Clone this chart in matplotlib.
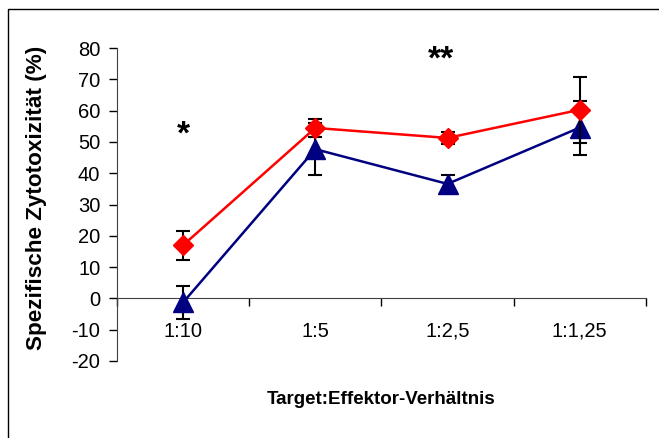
import matplotlib.pyplot as plt
from matplotlib import font_manager
from matplotlib.patches import Rectangle

plt.rcParams['font.family'] = ['Liberation Sans', 'DejaVu Sans']
plt.rcParams['axes.unicode_minus'] = False

# data
ratios = ['1:10', '1:5', '1:2,5', '1:1,25']
red_vals = [17.0, 54.5, 51.3, 60.3]
red_err = [4.7, 3.0, 2.0, 10.5]
blue_vals = [-1.3, 47.7, 36.6, 54.6]
blue_err = [5.2, 8.3, 3.0, 8.6]
stars = ['*', '', '**', '']

# x label looks like a narrow bold face; use it if available
names = set(f.name for f in font_manager.fontManager.ttflist)
if 'Liberation Sans Narrow' in names:
    xlab_font, xlab_size = 'Liberation Sans Narrow', 15
else:
    xlab_font, xlab_size = 'Liberation Sans', 13.5

fig = plt.figure(figsize=(6.59, 4.38), dpi=100)
ax = fig.add_axes([0.1775, 0.176, 0.8025, 0.714])

x = list(range(1, len(ratios) + 1))

# blue series first, red on top
ax.errorbar(x, blue_vals, yerr=blue_err, fmt='none', ecolor='black',
            elinewidth=1.5, capsize=5, capthick=1.5, zorder=2)
ax.plot(x, blue_vals, color='#000080', lw=1.8, marker='^', ms=14,
        mec='#000080', mfc='#000080', zorder=3)
ax.errorbar(x, red_vals, yerr=red_err, fmt='none', ecolor='black',
            elinewidth=1.5, capsize=5, capthick=1.5, zorder=4)
ax.plot(x, red_vals, color='#FF0000', lw=1.8, marker='D', ms=10,
        mec='#FF0000', mfc='#FF0000', zorder=5)

# significance markers
ax.text(1, 52.2, stars[0], ha='center', va='center', fontsize=24, fontweight='bold')
ax.text(2.95, 76.2, stars[2], ha='center', va='center', fontsize=24, fontweight='bold')

ax.set_xlim(0.5, 4.5)
ax.set_ylim(-20, 80)
ax.set_yticks(range(-20, 81, 10))
ax.tick_params(axis='y', direction='out', length=6, width=1, pad=6, labelsize=14.5)

ax.spines['top'].set_visible(False)
ax.spines['right'].set_visible(False)
ax.spines['bottom'].set_position(('data', 0))
ax.spines['left'].set_color('#404040')
ax.spines['bottom'].set_color('#404040')

ax.set_xticks([0.5, 1.5, 2.5, 3.5, 4.5])
ax.set_xticklabels([])
ax.tick_params(axis='x', which='major', direction='out', length=6, width=1)
ax.set_xticks(x, minor=True)
ax.set_xticklabels(ratios, minor=True)
ax.tick_params(axis='x', which='minor', length=0, pad=17, labelsize=14.5)

ax.set_ylabel('Spezifische Zytotoxizität (%)', fontsize=16.2, fontweight='bold')
ax.yaxis.set_label_coords((47 - 117) / 529.0, 0.52)
fig.text(0.578, 1 - 400 / 438.0, 'Target:Effektor-Verhältnis', ha='center', va='center',
         fontsize=xlab_size, fontweight='bold', family=[xlab_font, 'DejaVu Sans'])

# outer frame (right and bottom edges are cropped in the original)
fig.patches.append(Rectangle((0.012, -0.1), 1.2, 1.079, transform=fig.transFigure,
                             fill=False, edgecolor='black', lw=1))

fig.savefig('out.png', dpi=100)
